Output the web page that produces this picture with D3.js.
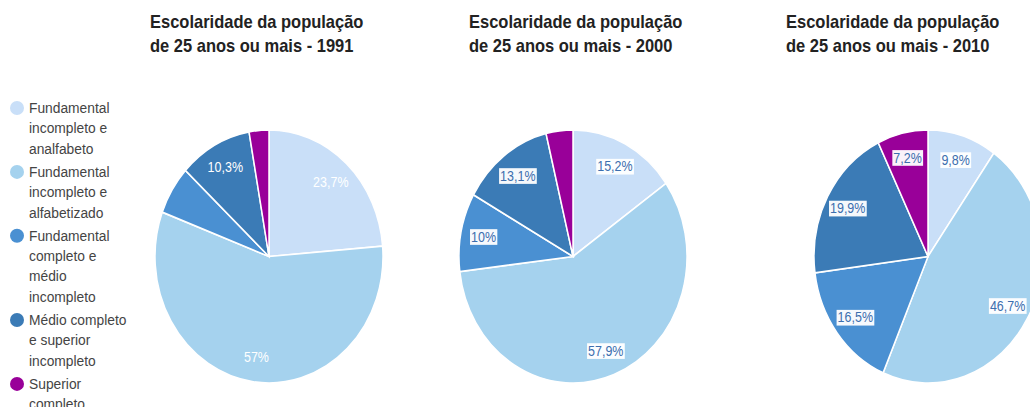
<!DOCTYPE html>
<html><head><meta charset="utf-8">
<script src="https://cdn.jsdelivr.net/npm/d3@7"></script>
<style>body{margin:0;background:#fff;}svg{display:block;font-family:"Liberation Sans",Arial,sans-serif;}</style>
</head><body>
<svg id="c" width="1030" height="407"></svg>
<script>
const categories = [
  "Fundamental incompleto e analfabeto",
  "Fundamental incompleto e alfabetizado",
  "Fundamental completo e médio incompleto",
  "Médio completo e superior incompleto",
  "Superior completo"
];
const legendLines = [
  ["Fundamental","incompleto e","analfabeto"],
  ["Fundamental","incompleto e","alfabetizado"],
  ["Fundamental","completo e","médio","incompleto"],
  ["Médio completo","e superior","incompleto"],
  ["Superior","completo"]
];
const colors = ["#c9dff8","#a5d2ee","#4a90d2","#3b7bb6","#990099"];
const years = ["1991","2000","2010"];
const values1991 = [23.7, 57.0, 6.2, 10.3, 2.8];
const values2000 = [15.2, 57.9, 10.0, 13.1, 3.8];
const values2010 = [9.8, 46.7, 16.5, 19.9, 7.2];
const labels1991 = ["23,7%","57%","","10,3%",""];
const labels2000 = ["15,2%","57,9%","10%","13,1%",""];
const labels2010 = ["9,8%","46,7%","16,5%","19,9%","7,2%"];

const svg = d3.select("#c");
const charts = [
  {year: years[0], values: values1991, labels: labels1991, cx: 269, tx: 150, boxed: false},
  {year: years[1], values: values2000, labels: labels2000, cx: 573, tx: 469, boxed: true},
  {year: years[2], values: values2010, labels: labels2010, cx: 928, tx: 786, boxed: true}
];
const R = 114, CY = 256.5, SY = 1.11;
const pie = d3.pie().sort(null).value(d => d);
const arc = d3.arc().innerRadius(0).outerRadius(R);
const labelArc = d3.arc().innerRadius(R*0.8).outerRadius(R*0.8);

charts.forEach(ch => {
  const t = svg.append("text").attr("transform", `translate(${ch.tx},0) scale(1,1.08)`)
    .attr("font-size", 16.5).attr("font-weight", "bold").attr("fill", "#222");
  t.append("tspan").attr("x", 0).attr("y", 26).text("Escolaridade da população");
  t.append("tspan").attr("x", 0).attr("y", 48.5).text("de 25 anos ou mais - " + ch.year);

  const g = svg.append("g").attr("transform", `translate(${ch.cx},${CY})`);
  const arcs = pie(ch.values);
  g.append("g").attr("transform", `scale(1,${SY})`)
    .selectAll("path").data(arcs).join("path")
    .attr("d", arc).attr("fill", (d,i) => colors[i])
    .attr("stroke", "#fff").attr("stroke-width", 1.5);
  arcs.forEach((d,i) => {
    const lab = ch.labels[i];
    if (!lab) return;
    const [x,y] = labelArc.centroid(d);
    const lg = g.append("g").attr("transform", `translate(${x},${y*SY}) scale(1,1.1)`);
    const txt = lg.append("text").attr("text-anchor","middle").attr("dy","0.35em")
      .attr("font-size", 12.5).text(lab)
      .attr("fill", ch.boxed ? "#3c6eae" : "#fff");
    if (ch.boxed) {
      const bb = txt.node().getBBox();
      lg.insert("rect", "text").attr("x", bb.x-1).attr("y", bb.y).attr("width", bb.width+2).attr("height", bb.height)
        .attr("fill", "#fff").attr("opacity", 0.95);
    }
  });
});

// legend
let y = 108;
legendLines.forEach((lines, i) => {
  svg.append("circle").attr("cx", 17).attr("cy", y).attr("r", 7).attr("fill", colors[i]);
  const t = svg.append("text").attr("font-size", 13.8).attr("fill", "#444");
  lines.forEach((l, j) => {
    t.append("tspan").attr("x", 29).attr("y", y + 5 + j*20.3).text(l);
  });
  y += lines.length*20.3 + 3;
});
</script>
</body></html>
